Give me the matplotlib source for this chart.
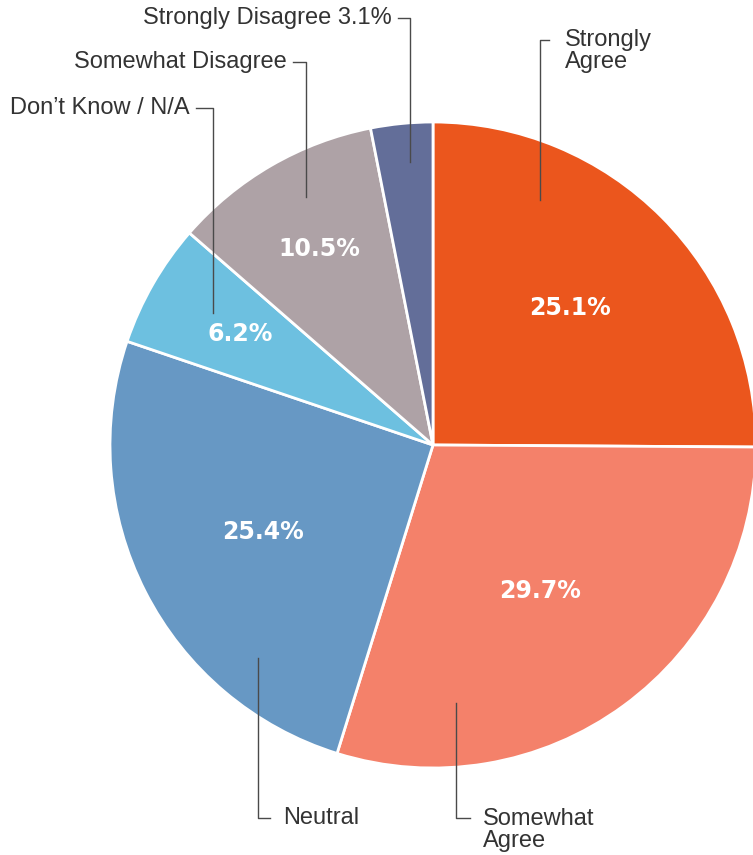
import numpy as np
import matplotlib
matplotlib.use("Agg")
import matplotlib.pyplot as plt

categories = ["Strongly\nAgree", "Somewhat\nAgree", "Neutral", "Don\u2019t Know / N/A",
              "Somewhat Disagree", "Strongly Disagree 3.1%"]
values = [25.1, 29.7, 25.4, 6.2, 10.5, 3.1]
pct_labels = ["25.1%", "29.7%", "25.4%", "6.2%", "10.5%", ""]
colors = ["#EB561D", "#F4816A", "#6798C4", "#6DC0E0", "#AEA2A6", "#636E99"]

W, H = 753, 855
cx, cy, R = 433, H - 445, 323

fig = plt.figure(figsize=(W / 100, H / 100), dpi=100)
ax = fig.add_axes([0, 0, 1, 1])

wedges, _ = ax.pie(values, colors=colors, startangle=90, counterclock=False,
                   center=(cx, cy), radius=R, frame=True,
                   wedgeprops=dict(edgecolor="white", linewidth=2))
ax.set_xlim(0, W)
ax.set_ylim(0, H)
ax.set_aspect("equal")
ax.axis("off")

# percentage labels inside slices
label_r = [0.60, 0.56, 0.59, 0.69, 0.70, 0.0]
for w, txt, fr in zip(wedges, pct_labels, label_r):
    if not txt:
        continue
    mid = np.deg2rad((w.theta1 + w.theta2) / 2)
    ax.text(cx + fr * R * np.cos(mid), cy + fr * R * np.sin(mid), txt,
            ha="center", va="center", color="white", fontsize=17,
            fontweight="bold", family="DejaVu Sans")

lab_font = dict(fontsize=17, color="#333333", family=["Liberation Sans Narrow", "Liberation Sans"])
line_kw = dict(color="#4a4a4a", lw=1.0)
step = 23  # line step of two-line labels, px


def label_block(i, x, y, ha):
    n = categories[i].count("\n")
    ax.text(x, y - n * step / 2, categories[i], ha=ha, va="center",
            linespacing=1.0, **lab_font)


def top_leader(i, tx, ty, lx, ey, ha):
    y = H - ty
    if ha == "left":
        ax.plot([tx - 16, lx, lx], [y, y, H - ey], **line_kw)
    else:
        ax.plot([tx + 6, lx, lx], [y, y, H - ey], **line_kw)
    label_block(i, tx, y, ha)


def bottom_leader(i, tx, ty, lx, sy):
    y = H - ty
    ax.plot([lx, lx, tx - 13], [H - sy, y, y], **line_kw)
    label_block(i, tx, y, "left")


top_leader(0, 565, 40, 540, 200, "left")
bottom_leader(1, 483, 818, 456, 703)
bottom_leader(2, 283, 818, 258, 658)
top_leader(3, 190, 108, 213, 313, "right")
top_leader(4, 287, 62, 306, 197, "right")
top_leader(5, 392, 18, 410, 162, "right")

fig.savefig("out.png", dpi=100, facecolor="white")
